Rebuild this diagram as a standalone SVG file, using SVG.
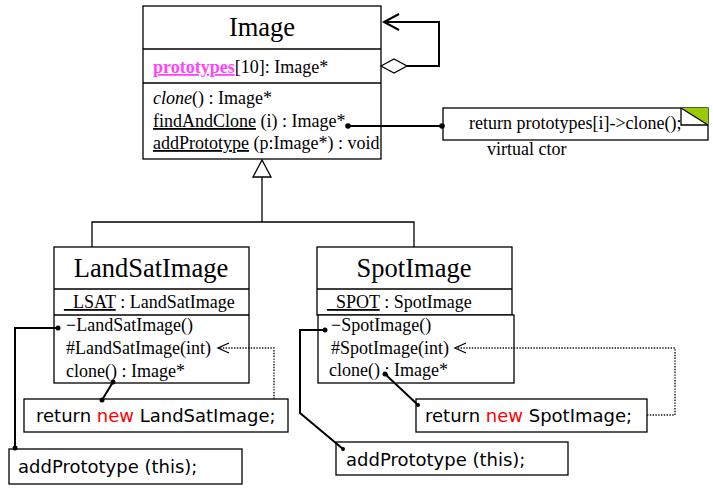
<svg xmlns="http://www.w3.org/2000/svg" width="713" height="490" viewBox="0 0 713 490">
<style>
.box{fill:#fff;stroke:#000;stroke-width:1.3}
.ser{font-family:"Liberation Serif","Times New Roman",serif;font-size:18px;fill:#000}
.title{font-family:"Liberation Serif","Times New Roman",serif;font-size:26.5px;fill:#000;text-anchor:middle}
.code{font-family:"DejaVu Sans",Verdana,sans-serif;font-size:18px;fill:#000}
.ln{fill:none;stroke:#000;stroke-width:2}
.thin{fill:none;stroke:#000;stroke-width:1.3}
.dot{fill:none;stroke:#111;stroke-width:1.4;stroke-dasharray:1.4 1.4}
.u{text-decoration:underline}
</style>
<rect width="713" height="490" fill="#fff"/>
<g id="Image">
  <rect class="box" x="143" y="6" width="238" height="153"/>
  <line class="thin" x1="143" y1="49" x2="381" y2="49"/>
  <line class="thin" x1="143" y1="83" x2="381" y2="83"/>
  <text class="title" x="262" y="36" font-size="27">Image</text>
  <text class="ser" x="153" y="73" font-size="18.5"><tspan class="u" font-weight="bold" fill="#ff44ff">prototypes</tspan>[10]: Image*</text>
  <text class="ser" x="153" y="104" font-size="18.5"><tspan font-style="italic">clone</tspan>() : Image*</text>
  <text class="ser" x="153" y="127" font-size="18.5"><tspan class="u">findAndClone</tspan> (i) : Image*</text>
  <text class="ser" x="153" y="149" font-size="18.5"><tspan class="u">addPrototype</tspan> (p:Image*) : void</text>
</g>
<g id="note">
  <rect class="box" x="443" y="108" width="265" height="32"/>
  <polygon points="681,108 708,108 708,125" fill="#99cc00"/>
  <polyline class="thin" points="681,108 681,125 708,125"/>
  <line class="thin" x1="681" y1="108" x2="708" y2="125"/>
  <text class="ser" x="469" y="129" font-size="18.2">return prototypes[i]-&gt;clone();</text>
  <text class="ser" x="487" y="155">virtual ctor</text>
</g>
<g id="LandSatImage">
  <rect class="box" x="54" y="247" width="195" height="136"/>
  <line class="thin" x1="54" y1="289" x2="249" y2="289"/>
  <line class="thin" x1="54" y1="315" x2="249" y2="315"/>
  <text class="title" x="151" y="277">LandSatImage</text>
  <text class="ser" x="64" y="308"><tspan class="u">_LSAT</tspan> : LandSatImage</text>
  <text class="ser" x="66" y="331">−LandSatImage()</text>
  <text class="ser" x="66" y="354">#LandSatImage(int)</text>
  <text class="ser" x="66" y="377">clone() : Image*</text>
</g>
<g id="SpotImage">
  <rect class="box" x="317" y="247" width="195" height="68"/>
  <line class="thin" x1="317" y1="289" x2="512" y2="289"/>
  <rect class="box" x="318" y="315" width="196" height="68"/>
  <text class="title" x="414" y="277">SpotImage</text>
  <text class="ser" x="327" y="308"><tspan class="u">_SPOT</tspan> : SpotImage</text>
  <text class="ser" x="331" y="331">−SpotImage()</text>
  <text class="ser" x="331" y="354">#SpotImage(int)</text>
  <text class="ser" x="329" y="376">clone() : Image*</text>
</g>
<g id="returnLandSat">
  <rect class="box" x="24" y="399" width="264" height="33"/>
  <text class="code" x="36" y="422">return <tspan fill="#ff0000">new</tspan> LandSatImage;</text>
</g>
<g id="addProtoLandSat">
  <rect class="box" x="9" y="449" width="233" height="35"/>
  <text class="code" x="18" y="473">addPrototype (this);</text>
</g>
<g id="returnSpot">
  <rect class="box" x="416" y="399" width="231" height="33"/>
  <text class="code" x="425" y="422">return <tspan fill="#ff0000">new</tspan> SpotImage;</text>
</g>
<g id="addProtoSpot">
  <rect class="box" x="336" y="442" width="232" height="33"/>
  <text class="code" x="346" y="466">addPrototype (this);</text>
</g>
<g id="connectors">
  <polyline class="ln" points="407,66 439,66 439,22 384,22"/>
  <polyline class="ln" points="399,14 384,22 399,30"/>
  <polygon points="381,66 394,59 407,66 394,73" fill="#fff" stroke="#000" stroke-width="1.3"/>
  <line class="ln" x1="348" y1="126" x2="442" y2="126"/>
  <circle cx="348" cy="126" r="2.8"/>
  <circle cx="442" cy="126" r="2.8"/>
  <polyline class="thin" points="262,177 262,222"/>
  <polyline class="thin" points="92,247 92,222 414,222 414,247"/>
  <polygon points="262,160 253,177 271,177" fill="#fff" stroke="#000" stroke-width="1.3"/>
  <polyline class="ln" points="58,328 15,328 15,448"/>
  <circle cx="58" cy="328" r="2.5"/>
  <circle cx="15" cy="448" r="2.5"/>
  <line class="ln" x1="113" y1="382" x2="102" y2="400"/>
  <circle cx="113" cy="382" r="2.5"/>
  <circle cx="102" cy="400" r="2.5"/>
  <polyline class="dot" points="274,399 274,348 220,348"/>
  <polyline class="thin" points="229,343 218,348 229,353"/>
  <polyline class="ln" points="325,330 300,330 300,413 343,449"/>
  <circle cx="325" cy="330" r="2.5"/>
  <circle cx="343" cy="449" r="2"/>
  <line class="ln" x1="385" y1="374" x2="418" y2="405"/>
  <circle cx="385" cy="374" r="2.5"/>
  <circle cx="418" cy="405" r="2"/>
  <polyline class="dot" points="647,415 675,415 675,348 457,348"/>
  <polyline class="thin" points="466,343 455,348 466,353"/>
</g>
</svg>
